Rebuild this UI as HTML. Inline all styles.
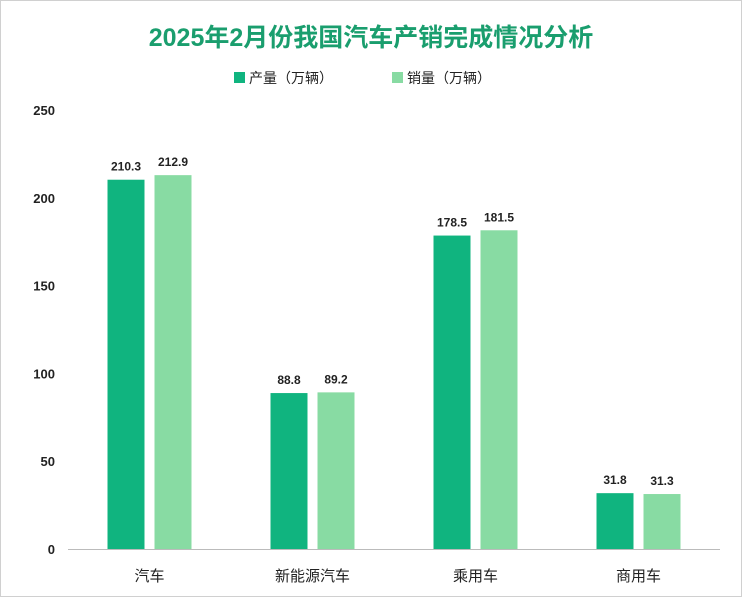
<!DOCTYPE html>
<html><head><meta charset="utf-8"><style>
body{margin:0;background:#fff}
svg{display:block;font-family:"Liberation Sans","Noto Sans CJK SC",sans-serif}
</style></head><body>
<svg id="chart" width="742" height="597" xmlns="http://www.w3.org/2000/svg">
<rect x="0.5" y="0.5" width="741" height="596" fill="#fff" stroke="#d0d0d0"/>
<text x="371" y="46" text-anchor="middle" font-size="25" font-weight="bold" fill="#1a9e6e">2025年2月份我国汽车产销完成情况分析</text>
<g>
<rect x="234" y="72" width="11" height="11" fill="#10b47f"/>
<text x="249" y="83" font-size="14" fill="#222">产量（万辆）</text>
<rect x="392" y="72" width="11" height="11" fill="#88dba3"/>
<text x="407" y="83" font-size="14" fill="#222">销量（万辆）</text>
</g>
<g id="axes"></g>
<g id="bars"></g>
</svg>
<script>
const categories=["汽车","新能源汽车","乘用车","商用车"];
const production=[210.3,88.8,178.5,31.8];
const sales=[212.9,89.2,181.5,31.3];
const yTicks=[0,50,100,150,200,250];
const NS="http://www.w3.org/2000/svg";
const x0=68,x1=720,yBase=549,yTop=110,yMax=250;
const y=v=>yBase-(v/yMax)*(yBase-yTop);
const band=(x1-x0)/categories.length;
const cx=i=>x0+band*(i+0.5);
function mk(tag,attrs,parent,txt){const e=document.createElementNS(NS,tag);for(const k in attrs)e.setAttribute(k,attrs[k]);if(txt!==undefined)e.textContent=txt;parent.appendChild(e);return e;}
const axes=document.getElementById('axes'),bars=document.getElementById('bars');
yTicks.forEach(t=>{
 const el=mk('text',{x:55,y:y(t)+5,'text-anchor':'end','font-size':13,'font-weight':'bold',fill:'#222'},axes,String(t));
 
 
});
const ax=mk('line',{x1:x0,x2:x1,y1:yBase+0.5,y2:yBase+0.5,stroke:'#bbb'},axes);


const bw=37,gap=10;
categories.forEach((c,i)=>{
 const c0=cx(i);
 const lab=mk('text',{x:c0,y:581,'text-anchor':'middle','font-size':15,fill:'#222'},axes,c);
 
 
 [[production[i],'#10b47f',c0-gap/2-bw,'production'],[sales[i],'#88dba3',c0+gap/2,'sales']].forEach(([v,col,bx,n])=>{
  const r=mk('rect',{x:bx,y:y(v),width:bw,height:yBase-y(v),fill:col},bars);
  
  
  const t=mk('text',{x:bx+bw/2,y:y(v)-9,'text-anchor':'middle','font-size':12,'font-weight':'bold',fill:'#222'},bars,v.toFixed(1));
  
  
 });
});
</script>
</body></html>
